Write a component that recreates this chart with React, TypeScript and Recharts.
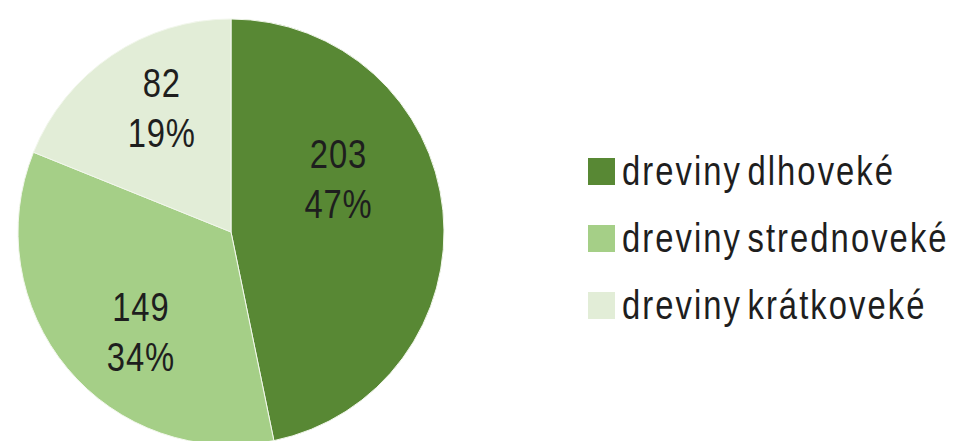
import { PieChart, Pie, Cell, Legend } from "recharts";

// počty drevín podľa dĺžky života
const categories = ["dreviny dlhoveké", "dreviny strednoveké", "dreviny krátkoveké"];
const counts = [203, 149, 82];
const colors = ["#588834", "#a5cf87", "#e2edd7"];

// Excel-like label placement: angle shift (deg) and radius fraction per slice
const labelAngleShift = [21, 8, -5];
const labelRadius = [0.565, 0.63, 0.67];

const data = categories.map((name, i) => ({ name, value: counts[i] }));

const FONT = "'Liberation Sans', Arial, sans-serif";
const NARROW = 0.82; // no narrow face installed, so squeeze horizontally
const RAD = Math.PI / 180;

function renderLabel(props: any) {
  const { cx, cy, midAngle, outerRadius, value, percent, index } = props;
  const a = (midAngle + labelAngleShift[index]) * RAD;
  const r = outerRadius * labelRadius[index];
  const x = cx + r * Math.cos(a);
  const y = cy - r * Math.sin(a);
  return (
    <text
      transform={`translate(${x},${y - 10}) scale(${NARROW},1)`}
      textAnchor="middle"
      fill="#1e1e1e"
      fontFamily={FONT}
      fontSize={40}
      letterSpacing={1}
    >
      <tspan x={0} y={0}>{value}</tspan>
      <tspan x={0} y={50}>{`${Math.round(percent * 100)}%`}</tspan>
    </text>
  );
}

function LegendBox() {
  // keep the category order of the data (recharts 3 sorts legend payload by name)
  return (
    <svg width={368} height={175} style={{ overflow: "visible", display: "block" }}>
      {categories.map((name, i) => (
        <g key={name} transform={`translate(0, ${i * 67})`}>
          <rect x={0} y={0} width={27} height={27} fill={colors[i]} />
          <text
            transform={`translate(34, 27) scale(${NARROW},1)`}
            fill="#1e1e1e"
            fontFamily={FONT}
            fontSize={40}
            letterSpacing={2.5}
            wordSpacing={-7}
          >
            {name}
          </text>
        </g>
      ))}
    </svg>
  );
}

export default function App() {
  return (
    <div style={{ position: "absolute", left: 0, top: 0, width: 956, height: 441, background: "#fff" }}>
      <PieChart width={956} height={441} margin={{ top: 0, right: 0, bottom: 0, left: 0 }}>
        <Pie
          data={data}
          dataKey="value"
          nameKey="name"
          cx={231}
          cy={232}
          outerRadius={213}
          startAngle={90}
          endAngle={-270}
          stroke="#f2f7ec"
          strokeWidth={1}
          label={renderLabel}
          labelLine={false}
          isAnimationActive={false}
        >
          {data.map((d, i) => (
            <Cell key={d.name} fill={colors[i]} />
          ))}
        </Pie>
        <Legend
          layout="vertical"
          verticalAlign="middle"
          align="right"
          content={<LegendBox />}
          wrapperStyle={{ left: 588, top: 158, width: 368, height: 175 }}
        />
      </PieChart>
    </div>
  );
}
